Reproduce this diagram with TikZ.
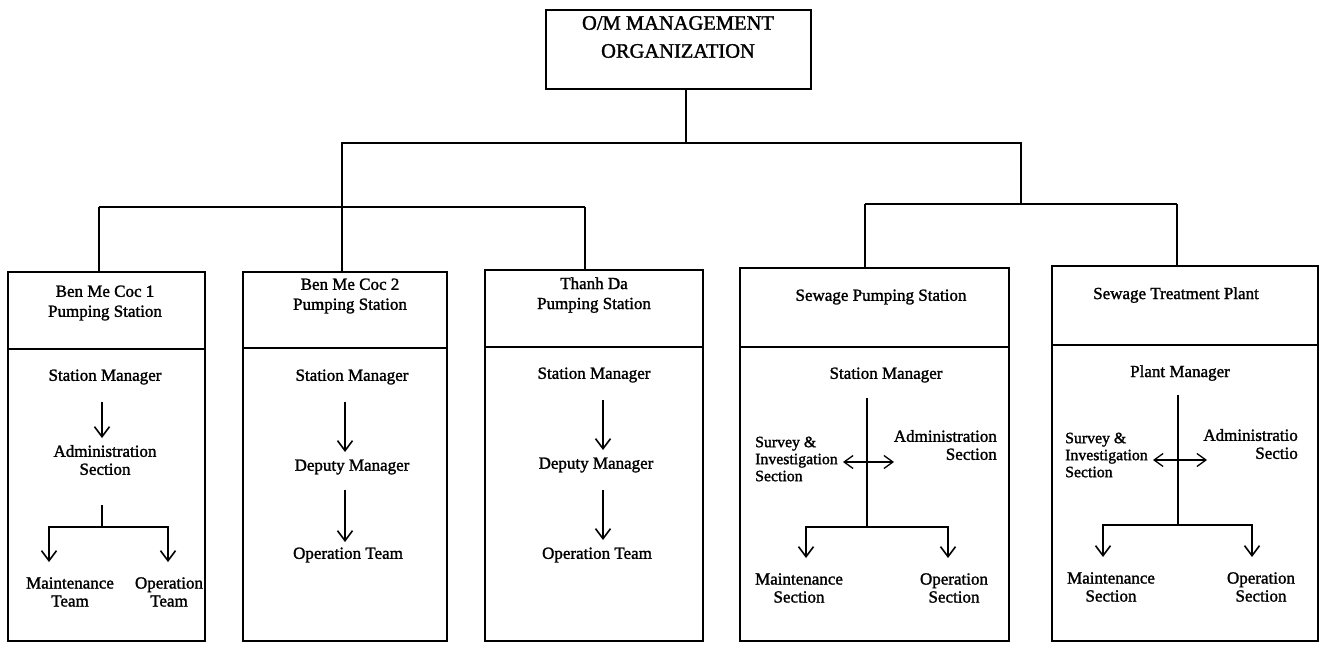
\documentclass[tikz,border=0pt]{standalone}
\usepackage{fontspec}
\usetikzlibrary{arrows.meta,calc}
\newfontfamily\scanfont{Liberation Serif}[FakeBold=1.5]
\newcommand\myBody{\scanfont\fontsize{17}{18}\selectfont}
\newcommand\mySide{\scanfont\fontsize{15.8}{17}\selectfont}
\newcommand\myHead{\scanfont\fontsize{17}{20}\selectfont}
\newcommand\myTitle{\scanfont\fontsize{20.5}{28}\selectfont}
\tikzset{
  frame/.style={draw, line width=1.8pt, inner sep=0pt},
  txt/.style={font=\myBody, align=center, inner sep=0pt},
  side/.style={font=\mySide, inner sep=0pt},
  link/.style={line width=1.8pt},
  down/.style={line width=1.6pt, -{Straight Barb[length=10pt,width=15pt]}},
  both/.style={line width=1.3pt, {Straight Barb[length=9pt,width=13pt]}-{Straight Barb[length=9pt,width=13pt]}},
}
\begin{document}
\begin{tikzpicture}[x=1pt,y=-1pt]
\fill[white] (0,0) rectangle (1324,645);
\useasboundingbox (0,0) rectangle (1324,645);

% head office
\node[frame, minimum width=265pt, minimum height=79pt] (om) at (678.5,49.5) {};
\node[txt, font=\myTitle] (omt) at (678,37) {O/M MANAGEMENT\\ORGANIZATION};

% unit frames: header part and body part
\node[frame, minimum width=197pt, minimum height=77pt]  (b1h) at (106.5,310.5) {};
\node[frame, minimum width=197pt, minimum height=292pt] (b1b) at (106.5,495) {};
\node[frame, minimum width=204pt, minimum height=76pt]  (b2h) at (345,310) {};
\node[frame, minimum width=204pt, minimum height=293pt] (b2b) at (345,494.5) {};
\node[frame, minimum width=218pt, minimum height=77pt]  (b3h) at (594,308.5) {};
\node[frame, minimum width=218pt, minimum height=294pt] (b3b) at (594,494) {};
\node[frame, minimum width=269pt, minimum height=79pt]  (b4h) at (874.5,307.5) {};
\node[frame, minimum width=269pt, minimum height=294pt] (b4b) at (874.5,494) {};
\node[frame, minimum width=266pt, minimum height=79pt]  (b5h) at (1185,305.5) {};
\node[frame, minimum width=266pt, minimum height=296pt] (b5b) at (1185,493) {};

% organisation tree
\coordinate (j0) at (686,143);
\coordinate (jl) at (342,207);
\coordinate (jr) at (1021,204);
\coordinate (k1) at (99,207);
\coordinate (k3) at (585,207);
\coordinate (k4) at (865,204);
\coordinate (k5) at (1177,204);
\draw[link] (om.south -| j0) -- (j0);
\draw[link] (jl) |- (j0) -| (jr);
\draw[link] (k1) -- (k3);
\draw[link] (k1) -- (k1 |- b1h.north);
\draw[link] (jl) -- (jl |- b2h.north);
\draw[link] (k3) -- (k3 |- b3h.north);
\draw[link] (k4) -- (k5);
\draw[link] (k4) -- (k4 |- b4h.north);
\draw[link] (k5) -- (k5 |- b5h.north);

% Ben Me Coc 1
\node[txt, font=\myHead] (b1t) at (105,303) {Ben Me Coc 1\\Pumping Station};
\node[txt] (b1sm) at (105,377) {Station Manager};
\node[txt] (b1ad) at (105,460) {Administration\\Section};
\node[txt] (b1mt) at (70,592) {Maintenance\\Team};
\node[txt] (b1ot) at (169,592) {Operation\\Team};
\draw[down] ($(b1sm)+(-3,25)$) -- ($(b1ad)+(-3,-22)$);
\draw[link] ($(b1ad)+(-3,45)$) -- ($(b1ad)+(-3,67)$);
\draw[down] ($(b1ad)+(-3,67)$) -| ($(b1mt)+(-21,-30)$);
\draw[down] ($(b1ad)+(-3,67)$) -| ($(b1ot)+(-1,-30)$);

% Ben Me Coc 2
\node[txt, font=\myHead] (b2t) at (350,296) {Ben Me Coc 2\\Pumping Station};
\node[txt] (b2sm) at (352,377) {Station Manager};
\node[txt] (b2dm) at (352,467) {Deputy Manager};
\node[txt] (b2ot) at (348,555) {Operation Team};
\draw[down] ($(b2sm)+(-7,25)$) -- ($(b2dm)+(-7,-15)$);
\draw[down] ($(b2dm)+(-7,23)$) -- ($(b2ot)+(-3,-13)$);

% Thanh Da
\node[txt, font=\myHead] (b3t) at (594,295) {Thanh Da\\Pumping Station};
\node[txt] (b3sm) at (594,375) {Station Manager};
\node[txt] (b3dm) at (596,465) {Deputy Manager};
\node[txt] (b3ot) at (597,555) {Operation Team};
\draw[down] ($(b3sm)+(9,25)$) -- ($(b3dm)+(7,-15)$);
\draw[down] ($(b3dm)+(7,25)$) -- ($(b3ot)+(6,-15)$);

% Sewage pumping station
\node[txt, font=\myHead] (b4t) at (881,297) {Sewage Pumping Station};
\node[txt] (b4sm) at (886,375) {Station Manager};
\node[side, anchor=west, align=left] (b4sv) at (755,459) {Survey \&\\Investigation\\Section};
\node[txt, anchor=east, align=right] (b4ad) at (997,445) {Administration\\Section};
\node[txt] (b4ms) at (799,588) {Maintenance\\Section};
\node[txt] (b4os) at (954,588) {Operation\\Section};
\draw[link] ($(b4sm)+(-19,23)$) -- ($(b4sm)+(-19,152)$);
\draw[down] ($(b4sm)+(-19,152)$) -| ($(b4ms)+(7,-30)$);
\draw[down] ($(b4sm)+(-19,152)$) -| ($(b4os)+(-6,-30)$);
\draw[both] ($(b4sv.west)+(88,3)$) -- ($(b4ad.east)+(-103,17)$);

% Sewage treatment plant
\node[txt, font=\myHead] (b5t) at (1176,295) {Sewage Treatment Plant};
\node[txt] (b5pm) at (1180,373) {Plant Manager};
\node[side, anchor=west, align=left] (b5sv) at (1065,455) {Survey \&\\Investigation\\Section};
\node[txt, anchor=east, align=right] (b5ad) at (1298,444) {Administratio\\Sectio};
\node[txt] (b5ms) at (1111,587) {Maintenance\\Section};
\node[txt] (b5os) at (1261,587) {Operation\\Section};
\draw[link] ($(b5pm)+(-2,22)$) -- ($(b5pm)+(-2,152)$);
\draw[down] ($(b5pm)+(-2,152)$) -| ($(b5ms)+(-8,-30)$);
\draw[down] ($(b5pm)+(-2,152)$) -| ($(b5os)+(-9,-30)$);
\draw[both] ($(b5sv.west)+(88,5)$) -- ($(b5ad.east)+(-91,16)$);
\end{tikzpicture}
\end{document}
